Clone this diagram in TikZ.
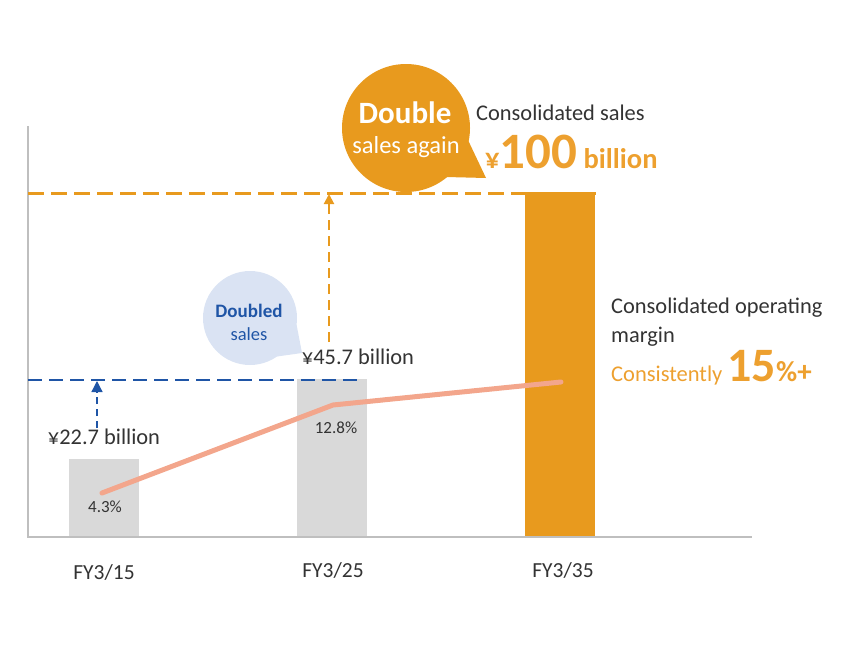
\documentclass[tikz,border=0pt]{standalone}
\usepackage{fontspec}
\setmainfont{Carlito}
\usetikzlibrary{arrows.meta,calc}
\definecolor{orng}{HTML}{E89A1E}
\definecolor{orngtxt}{HTML}{EDA02F}
\definecolor{barg}{HTML}{D9D9D9}
\definecolor{salmon}{HTML}{F3A68C}
\definecolor{bluel}{HTML}{1F55A6}
\definecolor{bubb}{HTML}{DAE3F3}
\definecolor{txt}{HTML}{333333}
\definecolor{axisg}{HTML}{BFBFBF}
\tikzset{
  bar/.style={draw=none,fill=barg,minimum width=70pt,inner sep=0pt,anchor=south},
  lbl/.style={text=txt,inner sep=0pt,font=\fontsize{22.4}{29}\selectfont},
  pct/.style={text=txt,inner sep=0pt,font=\fontsize{17}{20}\selectfont},
  fy/.style={text=txt,inner sep=0pt,font=\fontsize{21.5}{24}\selectfont},
  odash/.style={draw=orng,line width=3pt,dash pattern=on 16pt off 7pt},
  bdash/.style={draw=bluel,line width=2.2pt,dash pattern=on 14pt off 7pt},
}
\begin{document}
\begin{tikzpicture}[x=1pt,y=-1pt]
\useasboundingbox (0,0) rectangle (850,645);
% axes
\coordinate (ytop) at (28,126);
\coordinate (orig) at (28,537);
\coordinate (xend) at (752,537);
% bars
\node[bar,minimum height=78pt] (b1) at (104,537) {};
\node[bar,minimum height=158pt] (b2) at (332,537) {};
\node[bar,fill=orng,minimum height=345pt] (b3) at (560,537) {};
\draw[axisg,line width=1.2pt] (ytop) -- (orig) -- (xend);
% dashed reference lines
\coordinate (oL) at (28,193);
\coordinate (oR) at (596,193);
\draw[odash] (oL) -- (oR);
\coordinate (bL) at (28,380);
\coordinate (bR) at (360,380);
\draw[bdash] (bL) -- (bR);
% arrows
\coordinate (ba0) at (97,428);
\coordinate (ba1) at (97,381);
\draw[bluel,line width=1.3pt,dash pattern=on 7pt off 5pt,-{Triangle[length=11pt,width=11pt]}] (ba0) -- (ba1);
\coordinate (oa0) at (329,342);
\coordinate (oa1) at (329,194);
\draw[orng,line width=2pt,dash pattern=on 10pt off 6pt,-{Triangle[length=10pt,width=10pt]}] (oa0) -- (oa1);
% margin line
\coordinate (m1) at (102,493);
\coordinate (m2) at (333,405);
\coordinate (m3) at (561,382);
\draw[salmon,line width=5pt,line cap=round,line join=round] (m1) -- (m2) -- (m3);
% labels
\node[lbl] (v1) at (104,437) {¥22.7 billion};
\node[lbl] (v2) at (358,357) {¥45.7 billion};
\node[pct] (p1) at (105,507) {4.3\%};
\node[pct] (p2) at (336,428) {12.8\%};
\node[fy] (f1) at (104,572) {FY3/15};
\node[fy] (f2) at (333,570) {FY3/25};
\node[fy] (f3) at (563,570) {FY3/35};
% blue bubble
\coordinate (bc) at (250,318);
\coordinate (btip) at (302,353);
\fill[bubb] (bc) circle (47pt);
\fill[bubb] ($(bc)+(-8:47pt)$) -- (btip) -- ($(bc)+(-55:47pt)$) -- (bc) -- cycle;
\node[text=bluel,inner sep=0pt,font=\bfseries\fontsize{19}{22}\selectfont] (bb1) at (249,311) {Doubled};
\node[text=bluel,inner sep=0pt,font=\fontsize{18.5}{21}\selectfont] (bb2) at (249,334) {sales};
% orange bubble
\coordinate (oc) at (406,128);
\coordinate (otip) at (486,178);
\fill[orng] (oc) circle (64pt);
\fill[orng] ($(oc)+(-12:64pt)$) -- (otip) -- ($(oc)+(-50:64pt)$) -- (oc) -- cycle;
\node[text=white,inner sep=0pt,font=\bfseries\fontsize{31}{34}\selectfont] (ob1) at (405,113) {Double};
\node[text=white,inner sep=0pt,font=\fontsize{24.5}{28}\selectfont] (ob2) at (406,147) {sales again};
% consolidated sales
\node[lbl,anchor=west] (cs) at (476,113) {Consolidated sales};
\node[text=orngtxt,inner sep=0pt,anchor=base west,font=\bfseries\fontsize{28.5}{32}\selectfont] (cs2) at (485,168) {¥{\fontsize{51}{55}\selectfont 100} billion};
% operating margin
\node[lbl,anchor=west,align=left] (om) at (611,322) {Consolidated operating\\margin};
\node[text=orngtxt,inner sep=0pt,anchor=base west,font=\fontsize{22.5}{26}\selectfont] (om2) at (611,381) {Consistently {\bfseries\fontsize{48}{52}\selectfont 15}{\bfseries\fontsize{29}{32}\selectfont\%+}};
\end{tikzpicture}
\end{document}
